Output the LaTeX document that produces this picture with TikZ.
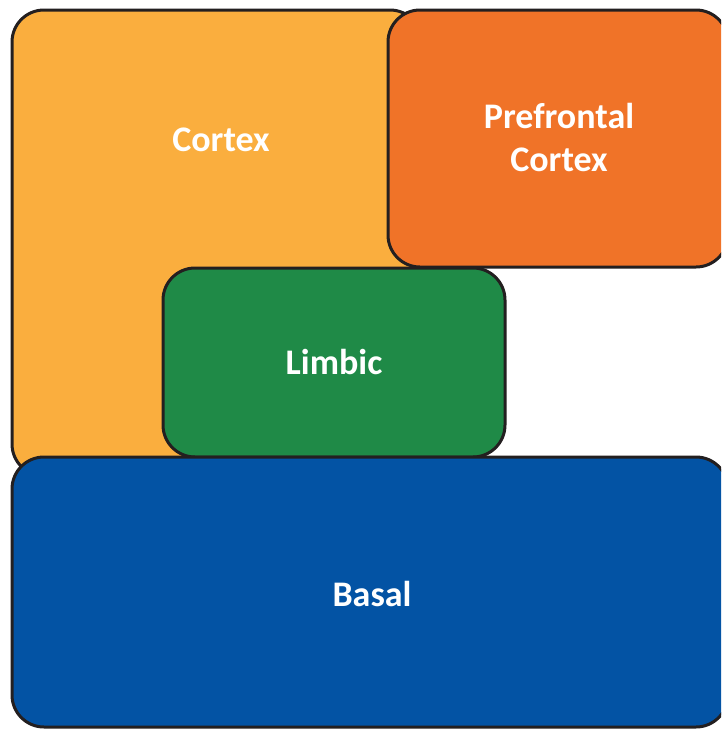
\documentclass[tikz,border=0pt]{standalone}
\usepackage{fontspec}
\setmainfont{Carlito}
\definecolor{cortexc}{HTML}{FAAE3E}
\definecolor{prefc}{HTML}{F07328}
\definecolor{limbc}{HTML}{1F8A47}
\definecolor{basalc}{HTML}{0353A4}
\definecolor{edgec}{HTML}{231F20}
\tikzset{
  region/.style={draw=edgec, line width=3pt, rounded corners=32pt},
  lbl/.style={text=white, font=\bfseries\fontsize{36}{43}\selectfont, align=center}
}
\begin{document}
\begin{tikzpicture}[x=1pt,y=-1pt]
\useasboundingbox (0,0) rectangle (721,729);
\clip (0,0) rectangle (721,729);
\fill[white] (0,0) rectangle (721,729);
\draw[region, fill=cortexc] (12,10) rectangle (422,476);
\draw[region, fill=prefc] (388,10) rectangle (728,267);
\draw[region, fill=limbc] (163,268) rectangle (505,457);
\draw[region, fill=basalc] (12,457) rectangle (728,727);
\node[lbl] (cortex) at (221,140) {Cortex};
\node[lbl] (pref) at (559,137) {Prefrontal\\Cortex};
\node[lbl] (limbic) at (334,362) {Limbic};
\node[lbl] (basal) at (372,594) {Basal};
\end{tikzpicture}
\end{document}
